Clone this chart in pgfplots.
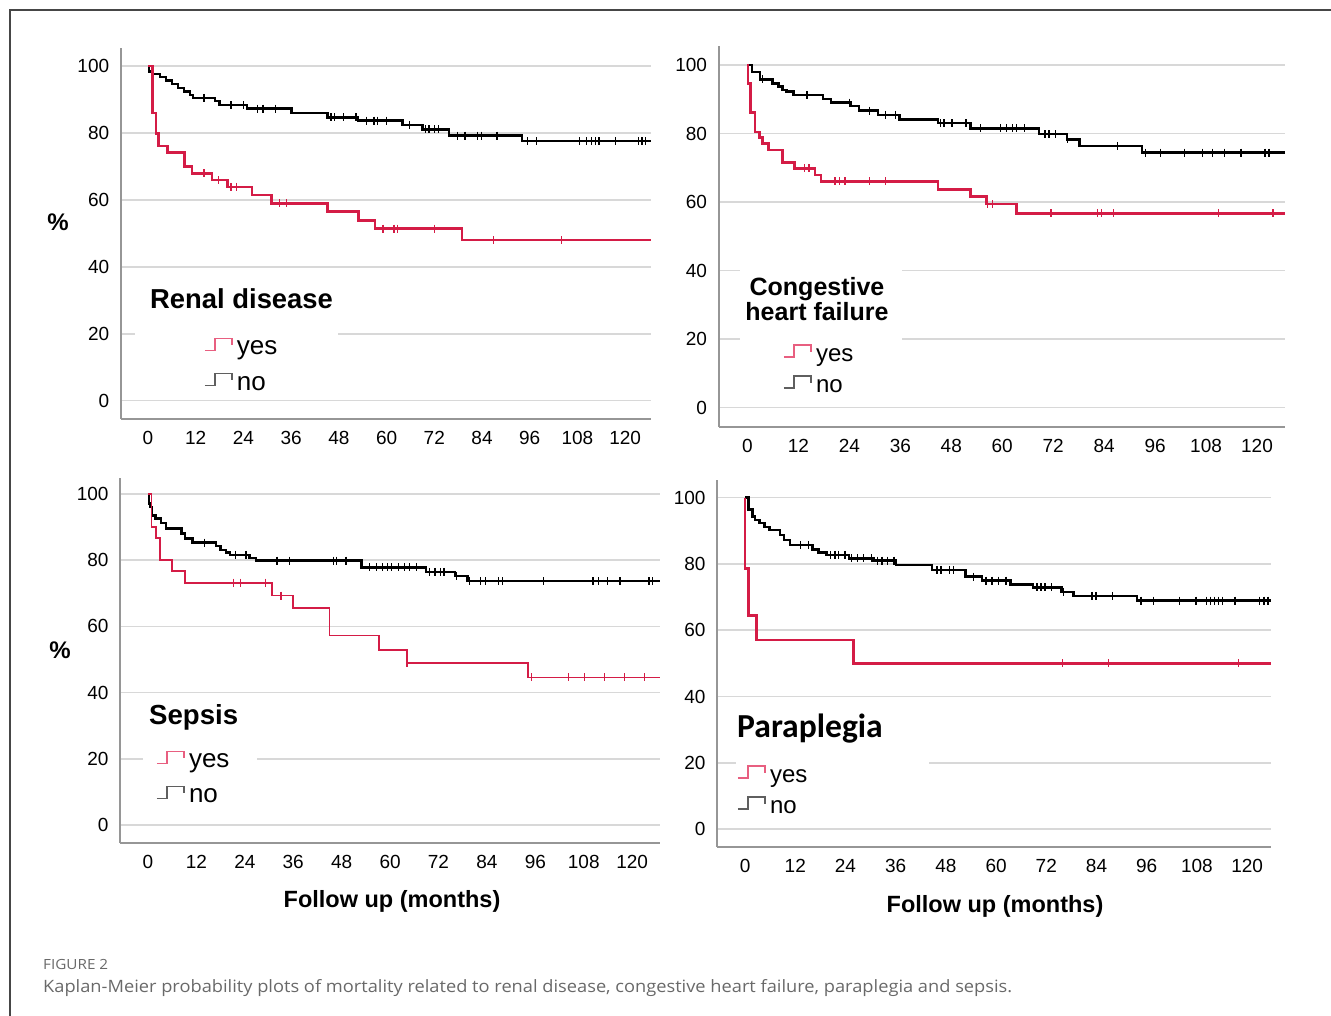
\documentclass[border=0pt]{standalone}
\usepackage{pgfplots}
\pgfplotsset{compat=1.18}
\usepackage{fontspec}
\usepackage{graphicx}
\setmainfont{Liberation Sans}
\newfontfamily\carlito{Carlito}
\newfontfamily\opensans{Open Sans}
\definecolor{kmred}{RGB}{212,28,70}
\definecolor{legred}{RGB}{232,95,128}
\definecolor{leggray}{RGB}{95,95,95}
\definecolor{gridgray}{RGB}{216,216,216}
\definecolor{axgray}{RGB}{150,150,150}
\definecolor{capgray}{RGB}{105,105,105}
\definecolor{framegray}{RGB}{70,70,70}

\pgfplotsset{
  km/.style={
    scale only axis,
    axis x line*=bottom, axis y line*=left,
    axis line style={axgray, line width=2pt, -},
    xtick={0,12,...,120}, ytick={0,20,...,100},
    major tick length=0pt,
    ymajorgrids, grid style={gridgray, line width=1.6pt},
    tick label style={font=\fontsize{19}{22}\selectfont, black},
    /pgf/number format/assume math mode=true,
    xticklabel style={yshift=-9pt},
    yticklabel style={xshift=-8pt},
    legend cell align=left,
    legend image code/.code={\draw[#1, line width=1.6pt] (0pt,-2pt) -- (10pt,-2pt) -- (10pt,10pt) -- (27pt,10pt) -- (27pt,3pt); \path (32pt,0pt);},
  },
  legbig/.style={legend style={draw=none, fill=none, inner sep=0pt, outer sep=0pt, column sep=0pt, row sep=12pt,
       nodes={inner sep=0pt, text height=18pt, text depth=5pt}, font=\fontsize{26}{30}\selectfont, anchor=north west}},
  legsmall/.style={legend style={draw=none, fill=none, inner sep=0pt, outer sep=0pt, column sep=0pt, row sep=9pt,
       nodes={inner sep=0pt, text height=17pt, text depth=5pt}, font=\fontsize{24}{28}\selectfont, anchor=north west}},
  surv/.style={const plot, line width=2.5pt, mark=none, forget plot},
  cens/.style={only marks, mark=|, mark size=4pt, mark options={line width=1.3pt}, forget plot},
}

\begin{document}
\begin{tikzpicture}[x=1pt,y=1pt]
\path[use as bounding box] (0pt,0pt) rectangle (1331pt,1016pt);
\draw[framegray, line width=1.3pt] (10pt,0pt) -- (10pt,1006pt) -- (1331pt,1006pt);

% ---------------- Panel 1: Renal disease ----------------
\begin{axis}[km, legbig,
  at={(120.7pt,597pt)}, anchor=south west,
  width=530.3pt, height=371pt,
  xmin=-6.87, xmax=126.5, ymin=-5.47, ymax=105.4,
  legend style={at={(rel axis cs:0.157,0.221)}}]
\fill[white] (rel axis cs:0.027,0.06) rectangle (rel axis cs:0.41,0.398);
\addplot[surv, black] coordinates {(0,100) (0.3,98.4) (1.2,97.6) (3,96.7) (4.5,95.7) (6,94.6) (7.5,93.5) (9,92.4) (10.5,91.4) (11.3,90.5) (16.8,89.5) (18,88.3) (24.9,87.3) (36.1,86) (45.1,84.7) (52.8,83.7) (64,82.4) (69,81.1) (75.7,79.2) (94.1,77.6) (126.5,77.6)};
\addplot[cens, black] coordinates {(14.1,90.5) (20.9,88.3) (24,88.3) (27.6,87.3) (28.9,87.3) (32.1,87.3) (46,84.7) (46.9,84.7) (49.2,84.7) (52.3,84.7) (55,83.7) (56.8,83.7) (57.7,83.7) (60,83.7) (65.8,82.4) (69.8,81.1) (70.7,81.1) (72.1,81.1) (73,81.1) (77.9,79.2) (79.7,79.2) (82.9,79.2) (83.8,79.2) (87.8,79.2) (95.5,77.6) (97.7,77.6) (108.5,77.6) (110.3,77.6) (111.6,77.6) (112.5,77.6) (113.4,77.6) (117.5,77.6) (123.3,77.6) (124.2,77.6) (125.1,77.6)};
\addplot[surv, kmred] coordinates {(0,100) (1.1,86) (2,79.9) (2.6,76.1) (4.9,74.1) (9.2,70) (11,67.9) (16.1,65.9) (20,63.9) (26.2,61.5) (31,59) (45.1,56.5) (52.9,53.8) (57.1,51.4) (79,48) (126.5,48)};
\addplot[cens, kmred] coordinates {(14.1,67.9) (17.7,65.9) (20.9,63.9) (22.2,63.9) (33,59) (34.8,59) (59.1,51.4) (61.9,51.4) (62.7,51.4) (72.1,51.4) (86.9,48) (104,48)};
\addlegendimage{legred}\addlegendentry{yes}
\addlegendimage{leggray}\addlegendentry{no}
\end{axis}

% ---------------- Panel 2: Congestive heart failure ----------------
\begin{axis}[km, legsmall,
  at={(718.5pt,589pt)}, anchor=south west,
  width=566.5pt, height=381pt,
  xmin=-6.82, xmax=126.6, ymin=-5.69, ymax=105.55,
  legend style={at={(rel axis cs:0.1139,0.2178)}}]
\fill[white] (rel axis cs:0.038,0.066) rectangle (rel axis cs:0.324,0.433);
\addplot[surv, black] coordinates {(0,100) (1.1,98) (2.9,95.8) (5.9,94.6) (7.3,93.7) (8.3,92.7) (9.2,92.2) (10.9,91.2) (17.8,90) (19.7,89) (24.4,88) (26.3,86.7) (30.8,85.4) (35.8,84.1) (44.9,83) (52.5,81.5) (68.7,79.8) (75.3,78.3) (78.2,76.4) (92.9,74.4) (126.6,74.4)};
\addplot[cens, black] coordinates {(3.5,95.8) (14,91.2) (24,89) (28.7,86.7) (32.5,85.4) (34.9,85.4) (45.4,83) (46.3,83) (48.2,83) (51.5,83) (54.9,81.5) (59.6,81.5) (61,81.5) (62.5,81.5) (63.4,81.5) (65.3,81.5) (70.1,79.8) (71,79.8) (72.5,79.8) (75.3,78.3) (87.2,76.4) (93.8,74.4) (97.2,74.4) (102.9,74.4) (107.2,74.4) (109.5,74.4) (112.4,74.4) (116.2,74.4) (121.9,74.4) (122.8,74.4)};
\addplot[surv, kmred] coordinates {(0,100) (0.1,94.6) (0.7,86.1) (1.8,80.5) (2.8,78.9) (3.5,77.1) (4.9,75.2) (8.3,71.5) (11.1,69.8) (15.9,67.9) (17.3,66) (44.9,63.7) (52.5,61.6) (56.3,59.4) (63.4,56.7) (126.6,56.7)};
\addplot[cens, kmred] coordinates {(13.5,69.8) (14.5,69.8) (20.6,66) (21.6,66) (23,66) (28.7,66) (32.5,66) (56.6,59.4) (57.7,59.4) (71.5,56.7) (82.4,56.7) (83.4,56.7) (86.2,56.7) (111,56.7) (123.8,56.7)};
\addlegendimage{legred}\addlegendentry{yes}
\addlegendimage{leggray}\addlegendentry{no}
\end{axis}

% ---------------- Panel 3: Sepsis ----------------
\begin{axis}[km, legbig,
  at={(120pt,173pt)}, anchor=south west,
  width=540pt, height=365pt,
  xmin=-6.94, xmax=126.9, ymin=-5.44, ymax=104.83,
  legend style={at={(rel axis cs:0.0667,0.2548)}}]
\fill[white] (rel axis cs:0.0426,0.0685) rectangle (rel axis cs:0.2537,0.4);
\addplot[surv, black] coordinates {(0,100) (0.2,97.1) (0.5,96) (1,93.5) (1.8,92.6) (3.2,91.3) (4.5,89.6) (8.3,88.1) (9.2,86.6) (11,85.3) (16.9,84.3) (18,83.1) (19.3,82.3) (20.3,81.6) (25.2,80.6) (26.8,79.9) (52.9,77.8) (68.9,76.5) (76.1,75.2) (79.2,73.7) (126.9,73.7)};
\addplot[cens, black] coordinates {(14,85.3) (21.6,81.6) (24.3,81.6) (32,79.9) (35.1,79.9) (45.9,79.9) (46.8,79.9) (49.1,79.9) (54.9,77.8) (56.7,77.8) (58.1,77.8) (59.4,77.8) (60.3,77.8) (62.1,77.8) (63.5,77.8) (64.8,77.8) (66.6,77.8) (69.8,76.5) (71.1,76.5) (72.5,76.5) (73.4,76.5) (76.5,75.2) (79.7,73.7) (82.4,73.7) (83.7,73.7) (86.9,73.7) (87.8,73.7) (98.1,73.7) (110.3,73.7) (111.6,73.7) (113.9,73.7) (117,73.7) (124.2,73.7) (125.1,73.7)};
\addplot[surv, kmred, line width=1.7pt] coordinates {(0,100) (0.9,90.1) (2,86.6) (2.9,80.1) (5.9,76.7) (9.2,73.2) (30.8,69.3) (36,65.5) (45,57.2) (57.2,52.9) (64.2,49) (94.1,44.6) (126.9,44.6)};
\addplot[cens, kmred] coordinates {(21.2,73.2) (23,73.2) (29.1,73.2) (33,69.3) (64.2,49) (95,44.6) (104.2,44.6) (108.2,44.6) (113.2,44.6) (118.1,44.6) (123.1,44.6)};
\addlegendimage{legred}\addlegendentry{yes}
\addlegendimage{leggray}\addlegendentry{no}
\end{axis}

% ---------------- Panel 4: Paraplegia ----------------
\begin{axis}[km, legsmall,
  at={(717pt,169pt)}, anchor=south west,
  width=554pt, height=367pt,
  xmin=-6.7, xmax=125.7, ymin=-5.43, ymax=105.34,
  legend style={at={(rel axis cs:0.0361,0.2234)}}]
\fill[white] (rel axis cs:0.0343,0.068) rectangle (rel axis cs:0.3827,0.4005);
\addplot[surv, black] coordinates {(0,100) (0.8,96.5) (1.8,94.3) (2.4,93.3) (3.4,92.3) (4.7,91.2) (5.9,90.2) (8.3,88.7) (9.3,87.2) (10.7,85.7) (16.1,84.4) (17.6,83.4) (19.5,82.7) (24.9,81.7) (30.7,81) (36.1,79.7) (44.7,78.2) (52.7,76.2) (56.6,75) (63.4,73.8) (68.8,72.9) (75.6,71.6) (78.5,70.4) (93.7,68.9) (125.7,68.9)};
\addplot[cens, black] coordinates {(13.2,85.7) (15.1,85.7) (20.5,82.7) (21.5,82.7) (22.4,82.7) (23.9,82.7) (25.4,81.7) (26.8,81.7) (28.3,81.7) (30.2,81.7) (31.7,81) (32.7,81) (34.1,81) (35.6,81) (45.9,78.2) (46.8,78.2) (48.8,78.2) (49.8,78.2) (54.6,76.2) (57.6,75) (59,75) (60.5,75) (62.4,75) (69.8,72.9) (70.7,72.9) (71.7,72.9) (73.2,72.9) (76.1,71.6) (82.9,70.4) (83.9,70.4) (87.8,70.4) (94.6,68.9) (97.6,68.9) (103.9,68.9) (107.8,68.9) (110.2,68.9) (111.2,68.9) (112.2,68.9) (113.2,68.9) (114.1,68.9) (117.1,68.9) (122.9,68.9) (124,68.9) (125,68.9)};
\addplot[surv, kmred] coordinates {(0,100) (0,78.7) (0.8,64.5) (2.7,57) (25.9,50) (125.7,50)};
\addplot[cens, kmred] coordinates {(75.9,50) (86.8,50) (117.9,50)};
\addlegendimage{legred}\addlegendentry{yes}
\addlegendimage{leggray}\addlegendentry{no}
\end{axis}

% ---------------- titles and labels ----------------
\node[anchor=base west, inner sep=0pt] at (150pt,707pt) {\fontsize{27.4}{30}\selectfont\bfseries Renal disease};
\node[anchor=base, inner sep=0pt] at (817pt,720pt) {\fontsize{25}{28}\selectfont\bfseries Congestive};
\node[anchor=base, inner sep=0pt] at (817pt,695pt) {\fontsize{25}{28}\selectfont\bfseries heart failure};
\node[anchor=base west, inner sep=0pt] at (149pt,291pt) {\fontsize{27.6}{30}\selectfont\bfseries Sepsis};
\node[anchor=base west, inner sep=0pt] at (737pt,278pt) {\carlito\fontsize{33.6}{36}\selectfont\bfseries Paraplegia};
\node[inner sep=0pt] at (58pt,794pt) {\fontsize{24}{26}\selectfont\bfseries\%};
\node[inner sep=0pt] at (60pt,366pt) {\fontsize{24}{26}\selectfont\bfseries\%};
\node[anchor=base, inner sep=0pt] at (392pt,108pt) {\fontsize{23.5}{26}\selectfont\bfseries Follow up (months)};
\node[anchor=base, inner sep=0pt] at (995pt,103pt) {\fontsize{23.5}{26}\selectfont\bfseries Follow up (months)};

% ---------------- caption ----------------
\node[anchor=base west, inner sep=0pt, text=capgray] at (43pt,46pt) {\resizebox{65pt}{\height}{\opensans\fontsize{14}{16}\selectfont FIGURE 2}};
\node[anchor=base west, inner sep=0pt, text=capgray] at (43pt,23pt) {\resizebox{969pt}{\height}{\opensans\fontsize{17}{20}\selectfont Kaplan-Meier probability plots of mortality related to renal disease, congestive heart failure, paraplegia and sepsis.}};
\end{tikzpicture}
\end{document}
